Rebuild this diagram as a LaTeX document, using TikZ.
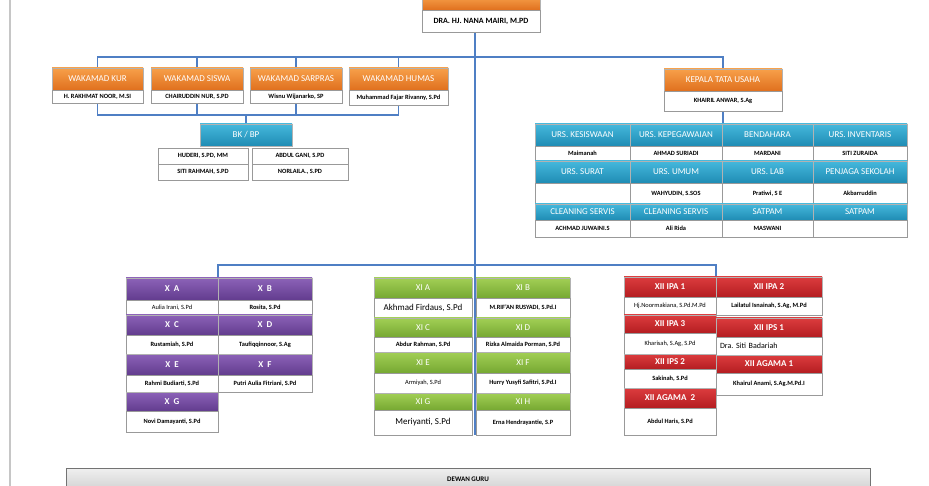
\documentclass[tikz,border=0pt]{standalone}
\usepackage{fontspec}
\setmainfont{Carlito}
\usetikzlibrary{positioning, backgrounds}
\definecolor{lineblue}{HTML}{4F7FC4}
\definecolor{orangetop}{HTML}{F7A04A}
\definecolor{orangebot}{HTML}{E0701E}
\definecolor{bluetop}{HTML}{45B8DC}
\definecolor{bluebot}{HTML}{1F8CB4}
\definecolor{purpletop}{HTML}{8C62B8}
\definecolor{purplebot}{HTML}{623C8E}
\definecolor{greentop}{HTML}{A2CF55}
\definecolor{greenbot}{HTML}{76A832}
\definecolor{redtop}{HTML}{DC3C3E}
\definecolor{redbot}{HTML}{B41D21}
\frenchspacing

\begin{document}
\begin{tikzpicture}[x=1pt, y=-1pt]
		\tikzstyle{head}=[rectangle, inner sep=0pt, outer sep=0pt, draw=gray!60, text=white, font=\fontsize{9}{10}\selectfont]
		\tikzstyle{headorange}=[head, top color=orangetop, bottom color=orangebot]
		\tikzstyle{headblue}=[head, top color=bluetop, bottom color=bluebot]
		\tikzstyle{headpurple}=[head, top color=purpletop, bottom color=purplebot, font=\fontsize{9}{10}\selectfont\bfseries]
		\tikzstyle{headgreen}=[head, top color=greentop, bottom color=greenbot]
		\tikzstyle{headred}=[head, top color=redtop, bottom color=redbot, font=\fontsize{9}{10}\selectfont\bfseries]
		\tikzstyle{person}=[rectangle, inner sep=0pt, outer sep=0pt, draw=gray!80, fill=white, font=\fontsize{6.4}{7}\selectfont\bfseries]
		\tikzstyle{plain}=[font=\fontsize{6.4}{7}\selectfont]
		\tikzstyle{big}=[font=\fontsize{9}{10}\selectfont]
		\tikzstyle{connect}=[draw=lineblue, line width=1.6pt]
		\useasboundingbox (0,0) rectangle (929,486);
		\draw[gray!45, line width=1.2pt] (10,0) -- (10,486);
		% kepala sekolah
		\node[headorange, minimum width=118, minimum height=14] (ks) at (481,3) {};
		\node[person, minimum width=118, minimum height=22, below=0pt of ks, font=\fontsize{8}{9}\selectfont\bfseries] (ksn) {DRA. HJ. NANA MAIRI, M.PD};
		% wakamad
		\node[headorange, minimum width=91, minimum height=22] (kur) at (97.5,79) {WAKAMAD KUR};
		\node[person, minimum width=91, minimum height=13, below=0pt of kur] (kurn) {H. RAKHMAT NOOR, M.SI};
		\node[headorange, minimum width=92, minimum height=22] (siswa) at (197,79) {WAKAMAD SISWA};
		\node[person, minimum width=92, minimum height=13, below=0pt of siswa] (siswan) {CHAIRUDDIN NUR, S.PD};
		\node[headorange, minimum width=92, minimum height=22] (sarpras) at (296,79) {WAKAMAD SARPRAS};
		\node[person, minimum width=92, minimum height=13, below=0pt of sarpras] (sarprasn) {Wisnu Wijanarko, SP};
		\node[headorange, minimum width=99, minimum height=22] (humas) at (398.5,79) {WAKAMAD HUMAS};
		\node[person, minimum width=99, minimum height=15, below=0pt of humas] (humasn) {Muhammad Fajar Rivanny, S.Pd};
		% bk / bp
		\node[headblue, minimum width=92, minimum height=22] (bk) at (246,135) {BK / BP};
		\node[person, minimum width=90, minimum height=16] (bk1) at (203,156) {HUDERI, S.PD, MM};
		\node[person, minimum width=96, minimum height=16] (bk2) at (300,156) {ABDUL GANI, S.PD};
		\node[person, minimum width=90, minimum height=16, below=0pt of bk1] (bk3) {SITI RAHMAH, S.PD};
		\node[person, minimum width=96, minimum height=16, below=0pt of bk2] (bk4) {NORLAILA., S.PD};
		% tata usaha
		\node[headorange, minimum width=118, minimum height=22] (tu) at (723,80) {KEPALA TATA USAHA};
		\node[person, minimum width=118, minimum height=20, below=0pt of tu] (tun) {KHAIRIL ANWAR, S.Ag};
		\node[headblue, minimum width=95, minimum height=22] (kes) at (582.5,135) {URS. KESISWAAN};
		\node[person, minimum width=95, minimum height=14, below=0pt of kes] (kesn) {Maimanah};
		\node[headblue, minimum width=92, minimum height=22] (peg) at (676,135) {URS. KEPEGAWAIAN};
		\node[person, minimum width=92, minimum height=14, below=0pt of peg] (pegn) {AHMAD SURIADI};
		\node[headblue, minimum width=91, minimum height=22] (bend) at (767.5,135) {BENDAHARA};
		\node[person, minimum width=91, minimum height=14, below=0pt of bend] (bendn) {MARDANI};
		\node[headblue, minimum width=94, minimum height=22] (inv) at (860,135) {URS. INVENTARIS};
		\node[person, minimum width=94, minimum height=14, below=0pt of inv] (invn) {SITI ZURAIDA};
		\node[headblue, minimum width=95, minimum height=22] (surat) at (582.5,172) {URS. SURAT};
		\node[person, minimum width=95, minimum height=21, below=0pt of surat] (suratn) {};
		\node[headblue, minimum width=92, minimum height=22] (umum) at (676,172) {URS. UMUM};
		\node[person, minimum width=92, minimum height=21, below=0pt of umum] (umumn) {WAHYUDIN, S.SOS};
		\node[headblue, minimum width=91, minimum height=22] (lab) at (767.5,172) {URS. LAB};
		\node[person, minimum width=91, minimum height=21, below=0pt of lab] (labn) {Pratiwi, S E};
		\node[headblue, minimum width=94, minimum height=22] (jaga) at (860,172) {PENJAGA SEKOLAH};
		\node[person, minimum width=94, minimum height=21, below=0pt of jaga] (jagan) {Akbarruddin};
		\node[headblue, minimum width=95, minimum height=16, below=0pt of suratn] (cs1) {CLEANING SERVIS};
		\node[person, minimum width=95, minimum height=17, below=0pt of cs1] (cs1n) {ACHMAD JUWAINI.S};
		\node[headblue, minimum width=92, minimum height=16, below=0pt of umumn] (cs2) {CLEANING SERVIS};
		\node[person, minimum width=92, minimum height=17, below=0pt of cs2] (cs2n) {Ali Rida};
		\node[headblue, minimum width=91, minimum height=16, below=0pt of labn] (sat1) {SATPAM};
		\node[person, minimum width=91, minimum height=17, below=0pt of sat1] (sat1n) {MASWANI};
		\node[headblue, minimum width=94, minimum height=16, below=0pt of jagan] (sat2) {SATPAM};
		\node[person, minimum width=94, minimum height=17, below=0pt of sat2] (sat2n) {};
		% kelas X
		\node[headpurple, minimum width=92, minimum height=22] (xa) at (172,289) {X\ \ A};
		\node[person, plain, minimum width=92, minimum height=15, below=0pt of xa] (xan) {Aulia Irani, S.Pd};
		\node[headpurple, minimum width=92, minimum height=20, below=0pt of xan] (xc) {X\ \ C};
		\node[person, minimum width=92, minimum height=19, below=0pt of xc] (xcn) {Rustamiah, S.Pd};
		\node[headpurple, minimum width=92, minimum height=21, below=0pt of xcn] (xe) {X\ \ E};
		\node[person, minimum width=92, minimum height=17, below=0pt of xe] (xen) {Rahmi Budiarti, S.Pd};
		\node[headpurple, minimum width=92, minimum height=19, below=0pt of xen] (xg) {X\ \ G};
		\node[person, minimum width=92, minimum height=21, below=0pt of xg] (xgn) {Novi Damayanti, S.Pd};
		\node[headpurple, minimum width=94, minimum height=22] (xb) at (265,289) {X\ \ B};
		\node[person, minimum width=94, minimum height=15, below=0pt of xb] (xbn) {Rosita, S.Pd};
		\node[headpurple, minimum width=94, minimum height=20, below=0pt of xbn] (xd) {X\ \ D};
		\node[person, minimum width=94, minimum height=19, below=0pt of xd] (xdn) {Taufiqqinnoor, S.Ag};
		\node[headpurple, minimum width=94, minimum height=21, below=0pt of xdn] (xf) {X\ \ F};
		\node[person, minimum width=94, minimum height=17, below=0pt of xf] (xfn) {Putri Aulia Fitriani, S.Pd};
		% kelas XI
		\node[headgreen, minimum width=98, minimum height=20] (xia) at (423,288) {XI A};
		\node[person, big, minimum width=98, minimum height=20, below=0pt of xia] (xian) {Akhmad Firdaus, S.Pd};
		\node[headgreen, minimum width=98, minimum height=19, below=0pt of xian] (xic) {XI C};
		\node[person, minimum width=98, minimum height=15, below=0pt of xic] (xicn) {Abdur Rahman, S.Pd};
		\node[headgreen, minimum width=98, minimum height=21, below=0pt of xicn] (xie) {XI E};
		\node[person, plain, minimum width=98, minimum height=20, below=0pt of xie] (xien) {Armiyah, S.Pd};
		\node[headgreen, minimum width=98, minimum height=17, below=0pt of xien] (xig) {XI G};
		\node[person, big, minimum width=98, minimum height=25, below=0pt of xig] (xign) {Meriyanti, S.Pd};
		\node[headgreen, minimum width=94, minimum height=20] (xib) at (523,288) {XI B};
		\node[person, minimum width=94, minimum height=20, below=0pt of xib] (xibn) {M.RIF'AN RUSYADI, S.Pd.I};
		\node[headgreen, minimum width=94, minimum height=19, below=0pt of xibn] (xid) {XI D};
		\node[person, minimum width=94, minimum height=15, below=0pt of xid] (xidn) {Rizka Almaida Porman, S.Pd};
		\node[headgreen, minimum width=94, minimum height=21, below=0pt of xidn] (xif) {XI F};
		\node[person, minimum width=94, minimum height=20, below=0pt of xif] (xifn) {Hurry Yusyfi Safitri, S.Pd.I};
		\node[headgreen, minimum width=94, minimum height=17, below=0pt of xifn] (xih) {XI H};
		\node[person, minimum width=94, minimum height=25, below=0pt of xih] (xihn) {Erna Hendrayantie, S.P};
		% kelas XII
		\node[headred, minimum width=92, minimum height=20] (ipa1) at (670,287) {XII IPA 1};
		\node[person, plain, minimum width=92, minimum height=18, below=0pt of ipa1] (ipa1n) {Hj.Noormakiana, S.Pd.M.Pd};
		\node[headred, minimum width=92, minimum height=18, below=0pt of ipa1n] (ipa3) {XII IPA 3};
		\node[person, plain, minimum width=92, minimum height=21, below=0pt of ipa3] (ipa3n) {Kharisah, S.Ag, S.Pd};
		\node[headred, minimum width=92, minimum height=15, below=0pt of ipa3n] (ips2) {XII IPS 2};
		\node[person, minimum width=92, minimum height=19, below=0pt of ips2] (ips2n) {Sakinah, S.Pd};
		\node[headred, minimum width=92, minimum height=20, below=0pt of ips2n] (ag2) {XII AGAMA\ \ 2};
		\node[person, minimum width=92, minimum height=27, below=0pt of ag2] (ag2n) {Abdul Haris, S.Pd};
		\node[headred, minimum width=106, minimum height=20] (ipa2) at (769,287) {XII IPA 2};
		\node[person, minimum width=106, minimum height=18, below=0pt of ipa2] (ipa2n) {Lailatul Isnainah, S.Ag, M.Pd};
		\node[headred, minimum width=106, minimum height=19] (ips1) at (769,327.5) {XII IPS 1};
		\node[person, font=\fontsize{8}{9}\selectfont, text width=98, align=left, minimum width=106, minimum height=18, below=0pt of ips1] (ips1n) {Dra. Siti Badariah};
		\node[headred, minimum width=106, minimum height=18, below=0pt of ips1n] (ag1) {XII AGAMA 1};
		\node[person, minimum width=106, minimum height=22, below=0pt of ag1] (ag1n) {Khairul Anami, S.Ag.M.Pd.I};
		% dewan guru
		\node[rectangle, draw=gray!90!black, top color=gray!12, bottom color=gray!35, minimum width=804, minimum height=22, font=\fontsize{7}{8}\selectfont\bfseries] (dewan) at (468,479) {DEWAN GURU};
		\coordinate (tbus) at (475,57);
		\coordinate (wbus) at (246,115);
		\coordinate (kbus) at (475,265);
		\begin{scope}[on background layer]
		\path 
		(kur.north) edge [connect, to path={|- (tbus) -| (\tikztotarget)}] (tu.north)
		(siswa.north) edge [connect] (siswa.north |- tbus)
		(sarpras.north) edge [connect] (sarpras.north |- tbus)
		(humas.north) edge [connect] (humas.north |- tbus)
		(kbus |- ksn.south) edge [connect] (kbus |- xign.south)
		(kurn.south) edge [connect, to path={|- (wbus) -| (\tikztotarget)}] (humasn.south)
		(siswan.south) edge [connect] (siswan.south |- wbus)
		(sarprasn.south) edge [connect] (sarprasn.south |- wbus)
		(wbus) edge [connect] (bk.north)
		(tun.south) edge [connect] (tun.south |- bend.north)
		(xa.north east) edge [connect, to path={|- (kbus) -| (\tikztotarget)}] (ipa1.north east)
		;
		\end{scope}
	\end{tikzpicture}
\end{document}
